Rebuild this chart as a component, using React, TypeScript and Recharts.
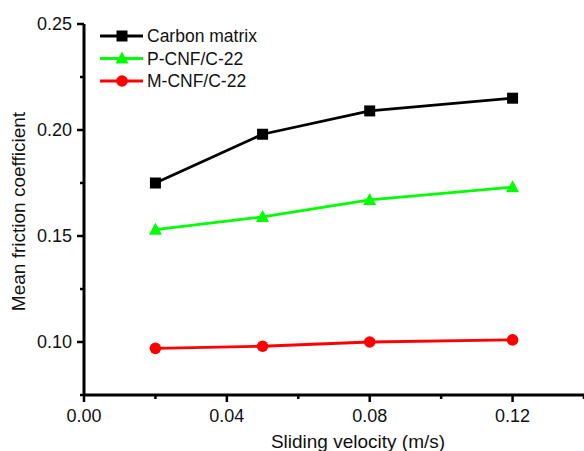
import React from 'react';
import { LineChart, Line, XAxis, YAxis, Legend } from 'recharts';

const velocities = [0.02, 0.05, 0.08, 0.12];
const carbonMatrix = [0.175, 0.198, 0.209, 0.215];
const pCnf = [0.153, 0.159, 0.167, 0.173];
const mCnf = [0.097, 0.098, 0.1, 0.101];

const xTicks = [0, 0.02, 0.04, 0.06, 0.08, 0.1, 0.12, 0.14];
const xMajor = [0, 0.04, 0.08, 0.12];
const yTicks = [0.075, 0.1, 0.125, 0.15, 0.175, 0.2, 0.225, 0.25];
const yMajor = [0.1, 0.15, 0.2, 0.25];

const seriesNames = ['Carbon matrix', 'P-CNF/C-22', 'M-CNF/C-22'];
const seriesColors = ['#000000', '#00ff00', '#ff0000'];
const seriesShapes = ['square', 'triangle', 'circle'];

const data = velocities.map((v, i) => ({
  v,
  carbon: carbonMatrix[i],
  pcnf: pCnf[i],
  mcnf: mCnf[i],
}));
const seriesKeys = ['carbon', 'pcnf', 'mcnf'];

const FONT = '"Liberation Sans", Arial, sans-serif';

const isMajor = (val: number, list: number[]) => list.some((m) => Math.abs(m - val) < 1e-9);

const Marker = ({ cx, cy, shape, color }: any) => {
  if (shape === 'square') {
    return <rect x={cx - 5.5} y={cy - 5.5} width={11} height={11} fill={color} />;
  }
  if (shape === 'triangle') {
    return <polygon points={`${cx},${cy - 7} ${cx + 6.5},${cy + 5} ${cx - 6.5},${cy + 5}`} fill={color} />;
  }
  return <circle cx={cx} cy={cy} r={5.8} fill={color} />;
};

const YTick = (props: any) => {
  const { x, y, payload } = props;
  const major = isMajor(payload.value, yMajor);
  return (
    <g>
      <line x1={x} x2={x - (major ? 7 : 4)} y1={y} y2={y} stroke="#000" strokeWidth={2.5} />
      {major && (
        <text x={x - 12} y={y} dy={6} textAnchor="end" fontSize={18} fontFamily={FONT} fill="#111">
          {payload.value.toFixed(2)}
        </text>
      )}
    </g>
  );
};

const XTick = (props: any) => {
  const { x, y, payload } = props;
  const major = isMajor(payload.value, xMajor);
  return (
    <g>
      <line x1={x} x2={x} y1={y} y2={y + (major ? 7 : 4)} stroke="#000" strokeWidth={2.5} />
      {major && (
        <text x={x} y={y + 27} textAnchor="middle" fontSize={18} fontFamily={FONT} fill="#111">
          {payload.value.toFixed(2)}
        </text>
      )}
    </g>
  );
};

const LegendContent = () => (
  <svg width={200} height={72}>
    {seriesNames.map((name, i) => {
      const cy = 12 + i * 22.5;
      return (
        <g key={name}>
          <line x1={2} x2={45} y1={cy} y2={cy} stroke={seriesColors[i]} strokeWidth={2.8} />
          <Marker cx={24} cy={cy} shape={seriesShapes[i]} color={seriesColors[i]} />
          <text x={49} y={cy} dy={6} fontSize={17.5} fontFamily={FONT} fill="#111">
            {name}
          </text>
        </g>
      );
    })}
  </svg>
);

export default function App() {
  return (
    <div style={{ position: 'absolute', left: 0, top: 0, width: 584, height: 451, background: '#fff' }}>
      <LineChart width={584} height={451} data={data} margin={{ top: 24, right: 0, bottom: 0, left: 0 }}>
        <XAxis
          type="number"
          dataKey="v"
          domain={[0, 0.14]}
          ticks={xTicks}
          interval={0}
          allowDataOverflow
          height={56}
          tickSize={0}
          tickMargin={0}
          tickLine={false}
          axisLine={{ stroke: '#000', strokeWidth: 3 }}
          tick={<XTick />}
          label={{
            content: (p: any) => {
              const vb = p.viewBox;
              return (
                <text x={vb.x + 274} y={vb.y + 53} textAnchor="middle" fontSize={19} fontFamily={FONT} fill="#111">
                  Sliding velocity (m/s)
                </text>
              );
            },
          }}
        />
        <YAxis
          type="number"
          domain={[0.075, 0.25]}
          ticks={yTicks}
          interval={0}
          allowDataOverflow
          width={84}
          tickSize={0}
          tickMargin={0}
          tickLine={false}
          axisLine={{ stroke: '#000', strokeWidth: 3 }}
          tick={<YTick />}
          label={{
            content: (p: any) => {
              const vb = p.viewBox;
              const cx = vb.x + 25;
              const cy = vb.y + vb.height / 2 + 2;
              return (
                <text x={cx} y={cy} textAnchor="middle" fontSize={19} fontFamily={FONT} fill="#111" transform={`rotate(-90 ${cx} ${cy})`}>
                  Mean friction coefficient
                </text>
              );
            },
          }}
        />
        <Legend
          layout="vertical"
          align="center"
          verticalAlign="middle"
          wrapperStyle={{ left: 98, top: 24, width: 200, height: 72 }}
          content={<LegendContent />}
        />
        {seriesKeys.map((k, i) => (
          <Line
            key={k}
            type="linear"
            dataKey={k}
            name={seriesNames[i]}
            stroke={seriesColors[i]}
            strokeWidth={2.8}
            isAnimationActive={false}
            dot={(p: any) => <Marker key={`${k}-${p.index}`} cx={p.cx} cy={p.cy} shape={seriesShapes[i]} color={seriesColors[i]} />}
            activeDot={false}
          />
        ))}
      </LineChart>
    </div>
  );
}
